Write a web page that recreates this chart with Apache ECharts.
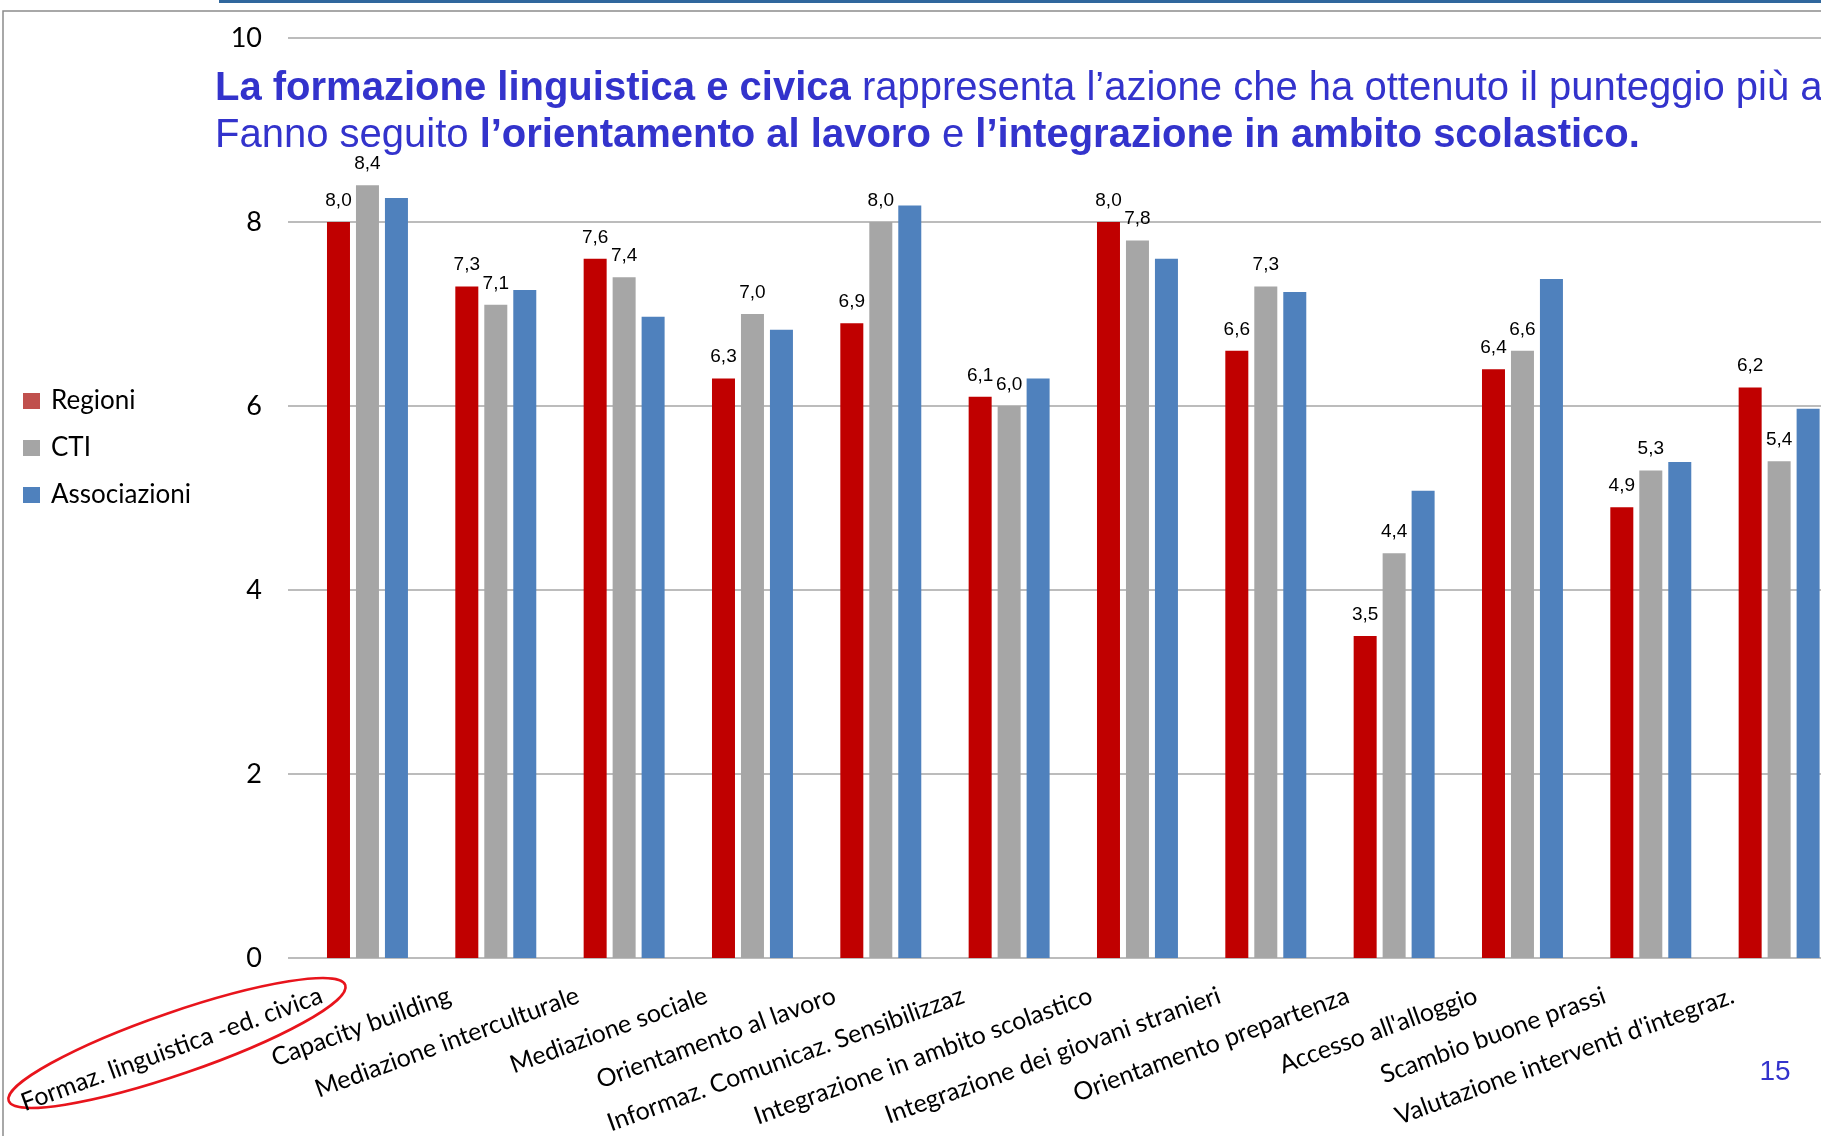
<!DOCTYPE html>
<html>
<head>
<meta charset="utf-8">
<script src="https://cdn.jsdelivr.net/npm/echarts@6/dist/echarts.min.js"></script>
<style>
  html, body { margin: 0; padding: 0; background: #fff; }
  #chart { width: 1821px; height: 1136px; }
</style>
</head>
<body>
<div id="chart"></div>
<script>
const categories = [
  'Formaz. linguistica -ed. civica',
  'Capacity building',
  'Mediazione interculturale',
  'Mediazione sociale',
  'Orientamento al lavoro',
  'Informaz. Comunicaz. Sensibilizzaz',
  'Integrazione in ambito scolastico',
  'Integrazione dei giovani stranieri',
  'Orientamento prepartenza',
  "Accesso all'alloggio",
  'Scambio buone prassi',
  "Valutazione interventi d'integraz."
];
const regioni = [8.0, 7.3, 7.6, 6.3, 6.9, 6.1, 8.0, 6.6, 3.5, 6.4, 4.9, 6.2];
const cti = [8.4, 7.1, 7.4, 7.0, 8.0, 6.0, 7.8, 7.3, 4.4, 6.6, 5.3, 5.4];
const associazioni = [8.26, 7.26, 6.97, 6.83, 8.18, 6.30, 7.60, 7.24, 5.08, 7.38, 5.39, 5.97];
const yTicks = [0, 2, 4, 6, 8, 10];

const chart = echarts.init(document.getElementById('chart'));

const titleBlue = '#3333cc';
const gridTop = 38;
const gridHeight = 920;

const valueLabel = {
  show: true,
  position: 'top',
  distance: 12,
  color: '#000',
  fontFamily: 'Liberation Sans, Arial, sans-serif',
  fontSize: 19,
  formatter: p => p.value.toFixed(1).replace('.', ',')
};

const option = {
  backgroundColor: '#fff',
  animation: false,
  title: {
    left: 215,
    top: 65,
    padding: 0,
    text: '{b|La formazione linguistica e civica}{n| rappresenta l\u2019azione che ha ottenuto il punteggio più alto.}\n' +
          '{n|Fanno seguito }{b|l\u2019orientamento al lavoro}{n| e }{b|l\u2019integrazione in ambito scolastico.}',
    textStyle: {
      rich: {
        b: { fontFamily: 'Liberation Sans, Arial, sans-serif', fontWeight: 'bold', fontSize: 40, color: titleBlue, lineHeight: 47 },
        n: { fontFamily: 'Liberation Sans, Arial, sans-serif', fontWeight: 'normal', fontSize: 40, color: titleBlue, lineHeight: 47 }
      }
    }
  },
  legend: {
    orient: 'vertical',
    left: 23,
    top: 386,
    padding: 0,
    icon: 'rect',
    itemWidth: 17,
    itemHeight: 16,
    itemGap: 17,
    textStyle: {
      fontFamily: 'Lato, sans-serif',
      fontSize: 26,
      color: '#000',
      lineHeight: 30,
      padding: [0, 0, 0, 6]
    },
    data: [
      { name: 'Regioni', itemStyle: { color: '#c0504d' } },
      { name: 'CTI', itemStyle: { color: '#a5a5a5' } },
      { name: 'Associazioni', itemStyle: { color: '#4f81bd' } }
    ]
  },
  grid: [
    { left: 288, top: gridTop, width: 1600, height: gridHeight, outerBoundsMode: 'none' },
    { left: 303.3, top: gridTop, width: 1540, height: gridHeight, outerBoundsMode: 'none' }
  ],
  xAxis: [
    { gridIndex: 0, type: 'value', show: false, min: 0, max: 1 },
    {
      gridIndex: 1,
      type: 'category',
      data: categories,
      axisLine: { show: false },
      axisTick: { show: false },
      axisLabel: {
        interval: 0,
        rotate: 20,
        margin: 20,
        padding: [0, 49, 0, 0],
        hideOverlap: false,
        fontFamily: 'Lato, sans-serif',
        fontSize: 25,
        color: '#000'
      }
    }
  ],
  yAxis: [
    {
      gridIndex: 0,
      type: 'value',
      min: yTicks[0],
      max: yTicks[yTicks.length - 1],
      interval: 2,
      axisLine: { show: false },
      axisTick: { show: false },
      axisLabel: { margin: 26, fontFamily: 'Lato, sans-serif', fontSize: 27, color: '#000' },
      splitLine: { lineStyle: { color: '#a6a6a6', width: 1.5 } }
    },
    { gridIndex: 1, type: 'value', min: 0, max: 10, show: false, splitLine: { show: false } }
  ],
  series: [
    {
      name: 'Regioni', type: 'bar', xAxisIndex: 1, yAxisIndex: 1,
      barWidth: 23, barGap: '26%',
      itemStyle: { color: '#c00000' },
      label: valueLabel,
      data: regioni
    },
    {
      name: 'CTI', type: 'bar', xAxisIndex: 1, yAxisIndex: 1,
      barWidth: 23, barGap: '26%',
      itemStyle: { color: '#a6a6a6' },
      label: valueLabel,
      data: cti
    },
    {
      name: 'Associazioni', type: 'bar', xAxisIndex: 1, yAxisIndex: 1,
      barWidth: 23, barGap: '26%',
      itemStyle: { color: '#4f81bd' },
      data: associazioni
    }
  ],
  graphic: [
    // slide frame and header strip
    { type: 'rect', z: -1, shape: { x: 3, y: 11, width: 1840, height: 1150 }, style: { fill: 'none', stroke: '#8c8c8c', lineWidth: 1.5 } },
    { type: 'rect', shape: { x: 219, y: 0, width: 1610, height: 3 }, style: { fill: '#30679d' } },
    // highlight round the first category
    { type: 'ellipse', x: 177, y: 1043, rotation: 19 * Math.PI / 180, shape: { cx: 0, cy: 0, rx: 178, ry: 31 }, style: { fill: 'none', stroke: '#e8141c', lineWidth: 2.6 } },
    // page number
    { type: 'text', x: 1775, y: 1072, style: { text: '15', fill: titleBlue, font: '28px "Liberation Sans", Arial, sans-serif', textAlign: 'center', textVerticalAlign: 'middle' } }
  ]
};

chart.setOption(option);
</script>
</body>
</html>
